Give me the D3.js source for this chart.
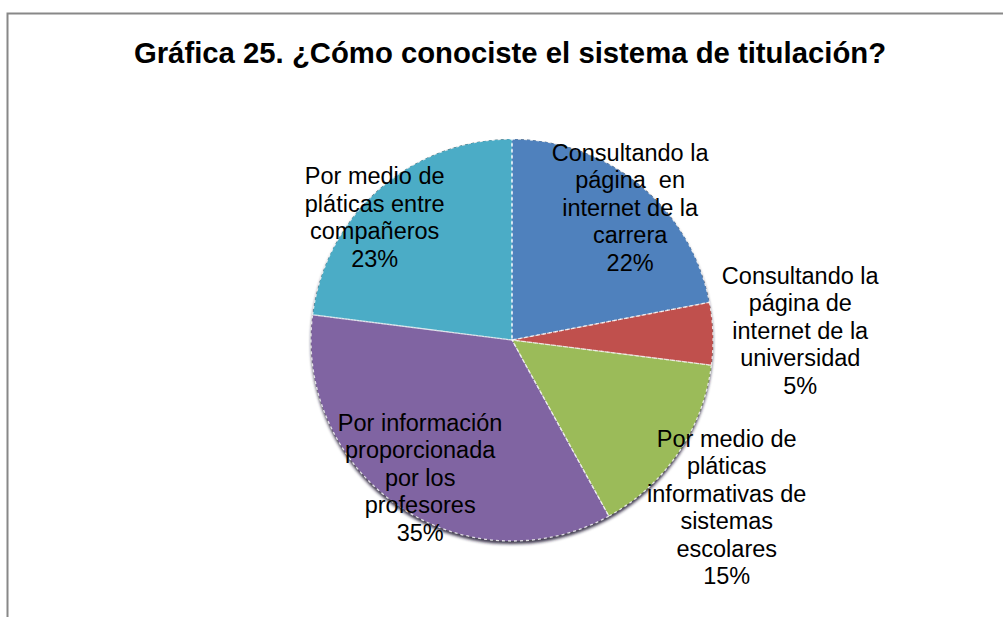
<!DOCTYPE html>
<html>
<head>
<meta charset="utf-8">
<script src="https://cdn.jsdelivr.net/npm/d3@7"></script>
<style>
  body { margin: 0; background: #fff; }
  text { font-family: "Liberation Sans", Arial, sans-serif; }
</style>
</head>
<body>
<script>
// data, in the order the slices go round (clockwise from 12 o'clock)
var categories = [
  'Consultando la\npágina  en\ninternet de la\ncarrera',
  'Consultando la\npágina de\ninternet de la\nuniversidad',
  'Por medio de\npláticas\ninformativas de\nsistemas\nescolares',
  'Por información\nproporcionada\npor los\nprofesores',
  'Por medio de\npláticas entre\ncompañeros'
];
var values = [22, 5, 15, 35, 23];
var colors = ['#4f81bd', '#c0504d', '#9bbb59', '#8064a2', '#4bacc6'];
var title = 'Gráfica 25. ¿Cómo conociste el sistema de titulación?';

var scr = { w: 1003, h: 617 };
var cx = 512, cy = 340, r = 201;
var fontSize = 23.5, lineH = 27.5;

// small nudges so labels sit where the spreadsheet put them
var labelNudge = [[6, 3], [7, -1], [-18, 9], [7, -8], [-21, 9]];

var svg = d3.select('body').append('svg')
  .attr('width', scr.w)
  .attr('height', scr.h);

// frame (only top and left edges are visible in the picture)
svg.append('path')
  .attr('d', 'M7.5,617 L7.5,13.5 L1003,13.5')
  .attr('fill', 'none')
  .attr('stroke', '#888')
  .attr('stroke-width', 2);

svg.append('text')
  .attr('x', 510)
  .attr('y', 63)
  .attr('text-anchor', 'middle')
  .attr('font-size', 29.3)
  .attr('font-weight', 'bold')
  .attr('fill', '#000')
  .text(title);

var defs = svg.append('defs');
var shadow = defs.append('filter')
  .attr('id', 'shadow')
  .attr('x', '-10%').attr('y', '-10%')
  .attr('width', '120%').attr('height', '120%');
shadow.append('feDropShadow')
  .attr('dx', 0).attr('dy', 3)
  .attr('stdDeviation', 1.5)
  .attr('flood-color', '#1a1530')
  .attr('flood-opacity', 0.85);

var total = d3.sum(values);
var pie = d3.pie().sort(null).value(function(d) { return d; });
var arcs = pie(values);
var arc = d3.arc().innerRadius(0).outerRadius(r);

var g = svg.append('g')
  .attr('transform', 'translate(' + cx + ',' + cy + ')');

g.append('circle')
  .attr('r', r)
  .attr('fill', '#555')
  .attr('filter', 'url(#shadow)');

g.selectAll('path.slice')
  .data(arcs)
  .enter()
  .append('path')
  .classed('slice', true)
  .attr('d', arc)
  .attr('fill', function(d, i) { return colors[i]; });

// white dotted edges between the slices
g.selectAll('path.edge')
  .data(arcs)
  .enter()
  .append('path')
  .classed('edge', true)
  .attr('d', arc)
  .attr('fill', 'none')
  .attr('stroke', '#fff')
  .attr('stroke-width', 1.3)
  .attr('stroke-opacity', 0.8)
  .attr('stroke-dasharray', '3,3');

var labels = g.selectAll('text.label')
  .data(arcs)
  .enter()
  .append('text')
  .classed('label', true)
  .attr('font-size', fontSize)
  .attr('fill', '#000')
  .attr('text-anchor', 'middle')
  .style('white-space', 'pre')
  .attr('transform', function(d, i) {
    var frac = (d.endAngle - d.startAngle) / (2 * Math.PI);
    var rr = frac < 0.18 ? r * 1.4 : r * 0.875;
    var a = (d.startAngle + d.endAngle) / 2;
    var x = rr * Math.sin(a) + labelNudge[i][0];
    var y = -rr * Math.cos(a) + labelNudge[i][1];
    return 'translate(' + x + ',' + y + ')';
  });

labels.each(function(d, i) {
  var lines = categories[i].split('\n');
  lines.push(Math.round(d.value / total * 100) + '%');
  var t = d3.select(this);
  var top = -(lines.length - 1) * lineH / 2;
  lines.forEach(function(line, j) {
    t.append('tspan')
      .attr('x', 0)
      .attr('y', top + j * lineH)
      .attr('dy', '0.36em')
      .text(line);
  });
});
</script>
</body>
</html>
